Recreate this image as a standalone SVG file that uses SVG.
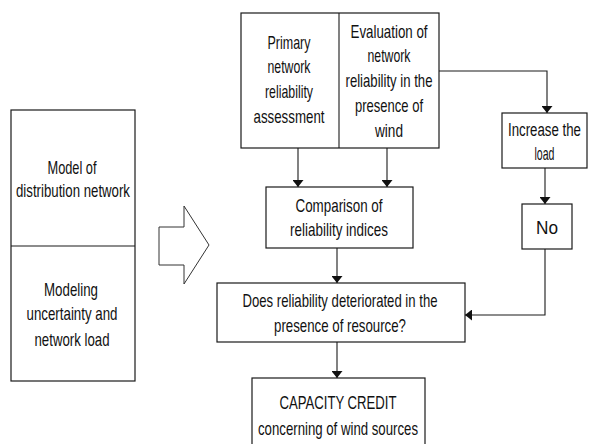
<svg xmlns="http://www.w3.org/2000/svg" width="589" height="444" viewBox="0 0 589 444">
<style>
.box{fill:#fff;stroke:#1a1a1a;stroke-width:1.2}
.ln{fill:none;stroke:#1a1a1a;stroke-width:1.1}
text{font-family:"Liberation Sans",Arial,sans-serif;font-size:19px;fill:#111;text-anchor:middle}
</style>
<defs>
<marker id="ah" viewBox="0 0 10 10" refX="10" refY="5" markerWidth="7" markerHeight="11" markerUnits="userSpaceOnUse" orient="auto" preserveAspectRatio="none">
<path d="M0,0 L10,5 L0,10 Z" fill="#111"/>
</marker>
</defs>
<rect width="589" height="444" fill="#fff"/>

<g id="left-box">
<rect class="box" x="11" y="110" width="124" height="271"/>
<line class="ln" x1="11" y1="246" x2="135" y2="246"/>
<text x="72" y="174" textLength="49" lengthAdjust="spacingAndGlyphs">Model of</text>
<text x="73" y="197" textLength="114" lengthAdjust="spacingAndGlyphs">distribution network</text>
<text x="71" y="296" textLength="54" lengthAdjust="spacingAndGlyphs">Modeling</text>
<text x="72" y="320" textLength="91" lengthAdjust="spacingAndGlyphs">uncertainty and</text>
<text x="72" y="346" textLength="75" lengthAdjust="spacingAndGlyphs">network load</text>
</g>

<g id="big-arrow">
<polygon points="159,227 184,227 184,206 209,245 184,284 184,265 159,265" fill="#fff" stroke="#333" stroke-width="1"/>
</g>

<g id="top-box">
<rect class="box" x="241" y="13" width="198" height="135"/>
<line class="ln" x1="339" y1="13" x2="339" y2="148"/>
<text x="289" y="49" textLength="43" lengthAdjust="spacingAndGlyphs">Primary</text>
<text x="289" y="73" textLength="43" lengthAdjust="spacingAndGlyphs">network</text>
<text x="289" y="98" textLength="48" lengthAdjust="spacingAndGlyphs">reliability</text>
<text x="289" y="123" textLength="71" lengthAdjust="spacingAndGlyphs">assessment</text>
<text x="389" y="38" textLength="77" lengthAdjust="spacingAndGlyphs">Evaluation of</text>
<text x="389" y="62" textLength="43" lengthAdjust="spacingAndGlyphs">network</text>
<text x="389" y="87" textLength="87" lengthAdjust="spacingAndGlyphs">reliability in the</text>
<text x="389" y="112" textLength="68" lengthAdjust="spacingAndGlyphs">presence of</text>
<text x="389" y="137" textLength="28" lengthAdjust="spacingAndGlyphs">wind</text>
</g>

<g id="increase-load">
<rect class="box" x="502" y="113" width="85" height="55"/>
<text transform="translate(544.5,136) scale(0.698,1)">Increase the</text>
<text x="544.5" y="160" textLength="20" lengthAdjust="spacingAndGlyphs">load</text>
</g>

<g id="comparison">
<rect class="box" x="266" y="187" width="147" height="61"/>
<text x="339" y="212" textLength="87" lengthAdjust="spacingAndGlyphs">Comparison of</text>
<text x="339" y="236" textLength="98" lengthAdjust="spacingAndGlyphs">reliability indices</text>
</g>

<g id="no">
<rect class="box" x="522" y="204" width="50" height="45"/>
<text x="547" y="234" textLength="22" lengthAdjust="spacingAndGlyphs">No</text>
</g>

<g id="does">
<rect class="box" x="217" y="283" width="248" height="59"/>
<text x="340" y="307" textLength="195" lengthAdjust="spacingAndGlyphs">Does reliability deteriorated in the</text>
<text x="340" y="332" textLength="132" lengthAdjust="spacingAndGlyphs">presence of resource?</text>
</g>

<g id="capacity">
<rect class="box" x="252" y="378" width="173" height="70"/>
<text x="338" y="409" textLength="117" lengthAdjust="spacingAndGlyphs">CAPACITY CREDIT</text>
<text x="338" y="435" textLength="160" lengthAdjust="spacingAndGlyphs">concerning of wind sources</text>
</g>

<g id="connectors">
<line class="ln" x1="298" y1="148" x2="298" y2="187" marker-end="url(#ah)"/>
<line class="ln" x1="387" y1="148" x2="387" y2="187" marker-end="url(#ah)"/>
<polyline class="ln" points="439,71 547,71 547,113" marker-end="url(#ah)"/>
<line class="ln" x1="545" y1="168" x2="545" y2="204" marker-end="url(#ah)"/>
<line class="ln" x1="337" y1="248" x2="337" y2="283" marker-end="url(#ah)"/>
<polyline class="ln" points="545,249 545,315 465,315" marker-end="url(#ah)"/>
<line class="ln" x1="337" y1="342" x2="337" y2="378" marker-end="url(#ah)"/>
</g>
</svg>
